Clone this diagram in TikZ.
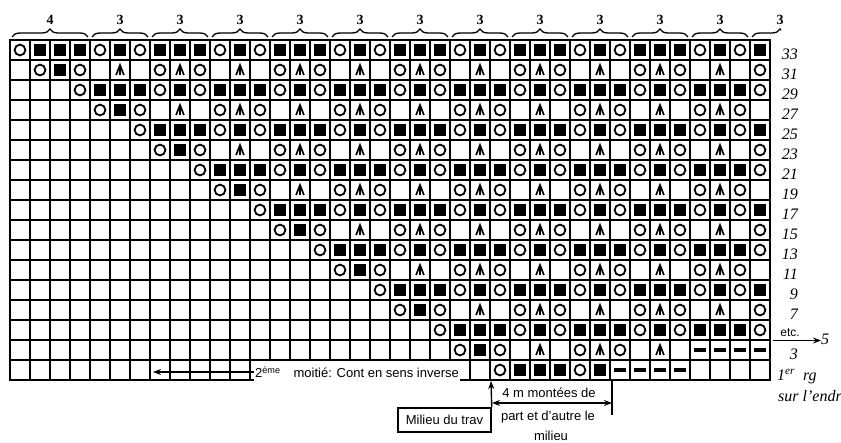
\documentclass[tikz,border=0pt]{standalone}
\usepackage{fontspec}
\setmainfont{Liberation Serif}
\setsansfont{Liberation Sans}
\usepackage{tikz}
\usetikzlibrary{arrows.meta,decorations.pathreplacing}
\tikzset{
  cell/.style={line width=1.3pt,draw=black},
  stair/.style={line width=2.6pt,line cap=rect,line join=miter},
  ring/.pic={\draw[line width=1.8pt] (0,0) circle (5.4);},
  blk/.pic={\fill (-6.2,-6.2) rectangle (6.2,6.2);},
  dec/.pic={\draw[line width=1.7pt,line join=miter] (-3.9,5) -- (0,-5) -- (3.9,5) (0,-5) -- (0,5);},
  flat/.pic={\fill (-6.3,-2.4) rectangle (6.3,2.4);},
  brc/.style={decorate,decoration={brace,amplitude=8pt},line width=1.3pt},
  num/.style={above=12pt,inner sep=0pt,font=\fontsize{14}{14}\selectfont\bfseries},
  rownum/.style={anchor=base east,inner sep=0pt,font=\fontsize{16}{16}\selectfont\itshape},
  lbl/.style={font=\fontsize{13}{13}\selectfont\sffamily},
  arr/.style={-{Stealth[length=8pt,width=6pt]},line width=1.4pt},
  arr2/.style={{Stealth[length=8pt,width=6pt]}-{Stealth[length=8pt,width=6pt]},line width=1.4pt}
}
\begin{document}
\begin{tikzpicture}[x=1pt,y=-1pt]
\useasboundingbox (0,0) rectangle (841,443);
\foreach \i in {0,...,38} \draw[cell] ({10+20*\i},40) -- ({10+20*\i},380);
\foreach \j in {0,...,17} \draw[cell] (10,{40+20*\j}) -- (770,{40+20*\j});
\draw[line width=1.8pt] (10,40) rectangle (770,380);
\foreach \k in {0,...,16}{
  \pgfmathtruncatemacro\ph{floor(\k/2)}
  \pgfmathtruncatemacro\rb{mod(\k,2)}
  \pgfmathtruncatemacro\st{1+3*\ph+\rb}
  \pgfmathsetmacro\yc{50+20*\k}
  \foreach \col in {\st,...,38}{
    \pgfmathsetmacro\xc{20*\col}
    \pgfmathtruncatemacro\mm{mod(\col+58-3*\ph-3*\rb,6)}
    \pgfmathtruncatemacro\kd{\rb==0 ? ((\mm==3||\mm==5) ? 1 : 2) : (\col==\st+1 ? 2 : ((\mm==3||\mm==5) ? 1 : ((\mm==1||\mm==4) ? 3 : 0)))}
    \ifnum\k=15 \ifnum\col>34 \def\kd{4}\fi\fi
    \ifnum\k=16 \ifnum\col>30 \pgfmathtruncatemacro\kd{\col<35 ? 4 : 0}\fi\fi
    \ifcase\kd \or \pic at (\xc,\yc) {ring}; \or \pic at (\xc,\yc) {blk}; \or \pic at (\xc,\yc) {dec}; \or \pic at (\xc,\yc) {flat}; \fi
  }
}
\draw[stair] (10,60) -| (30,80) -| (70,100) -| (90,120) -| (130,140) -| (150,160) -| (190,180) -| (210,200) -| (250,220) -| (270,240) -| (310,260) -| (330,280) -| (370,300) -| (390,320) -| (430,340) -| (450,360) -| (490,380);
\draw[stair] (630,180) rectangle (750,260);
\draw[brc] (12,37) -- (88,37) node[num,midway] (g0) {4};
\foreach \j in {1,...,11} \draw[brc] ({32+60*\j},37) -- ({88+60*\j},37) node[num,midway] (g\j) {3};
\begin{scope}
\clip (745,0) rectangle (781,40);
\draw[brc] (752,37) -- (808,37);
\end{scope}
\node[num] (g12) at (780,37) {3};
\foreach \r [count=\k from 0] in {33,31,...,7} \node[rownum] (n\r) at (798,{60+20*\k}) {\r};
\node[rownum] (n3) at (798,360) {3};
\node[font=\fontsize{12}{12}\selectfont\sffamily,anchor=base east,inner sep=0pt] (etc) at (800,337) {etc.};
\node[rownum,anchor=base west] (n5) at (821,345) {5};
\coordinate (e0) at (773,340.5);
\draw[arr] (e0) -- (e0 -| n5.west);
\node[rownum,anchor=base west] (r1) at (777,381) {1\textsuperscript{er}\enspace rg};
\node[rownum,anchor=base west] (r2) at (778,402) {sur l'endr};
\node[lbl,fill=white,anchor=west,minimum height=21pt,inner sep=1pt] (inv) at (254,372) {2\textsuperscript{ème}\quad moitié: Cont en sens inverse};
\coordinate (lft) at (153,372);
\draw[arr] (inv.west) -- (lft);
\node[lbl,draw,line width=1.5pt,minimum width=93pt,minimum height=24pt,inner sep=0pt] (mil) at (444.5,420) {Milieu du trav};
\coordinate (mid) at (491,381);
\draw[arr] (mil.north east) -- (mid);
\coordinate (ml) at (492,403);
\coordinate (mr) at (612,403);
\draw[arr2] (ml) -- (mr);
\coordinate (t1) at (612,380);
\coordinate (t2) at (612,415);
\draw[line width=1.4pt] (t1) -- (t2);
\node[lbl] (m1) at (549,393) {4 m montées de};
\node[lbl] (m2) at (548,417) {part et d'autre le};
\node[lbl] (m3) at (551,436) {milieu};
\end{tikzpicture}
\end{document}
